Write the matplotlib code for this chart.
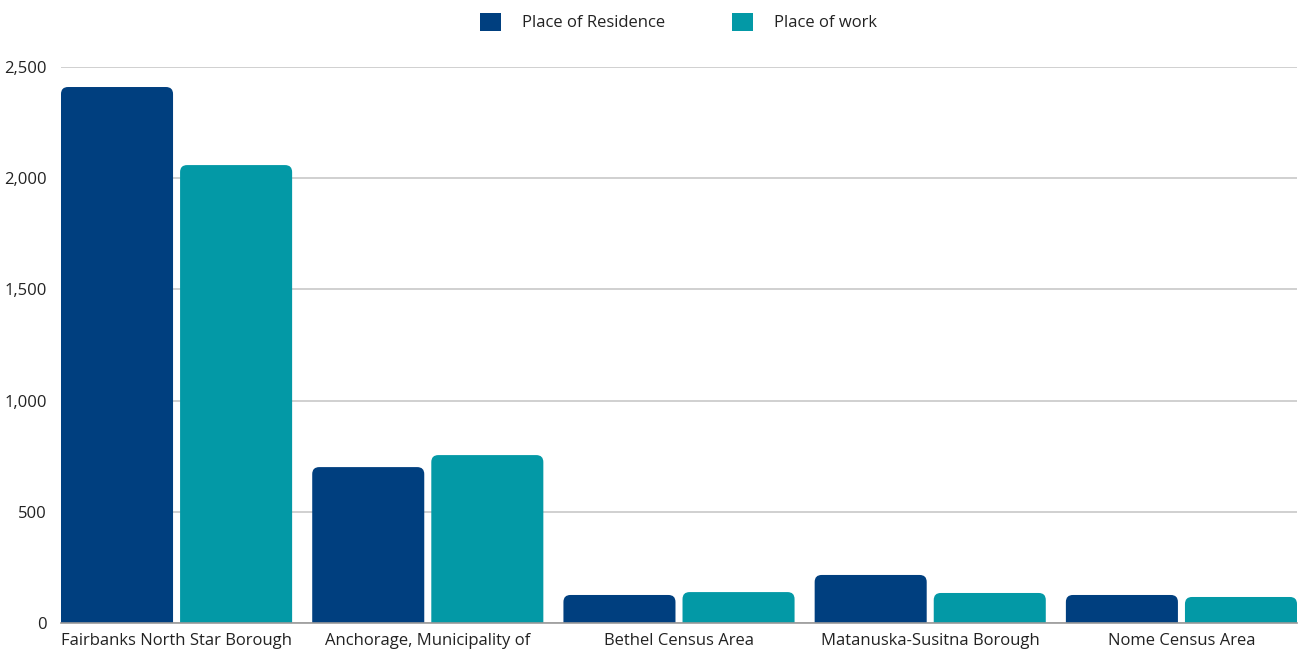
import numpy as np
import matplotlib
matplotlib.use("Agg")
import matplotlib.pyplot as plt
from matplotlib.patches import FancyBboxPatch, Patch

plt.rcParams["font.family"] = ["Open Sans", "DejaVu Sans"]

# dados
categorias = ["Fairbanks North Star Borough", "Anchorage, Municipality of",
              "Bethel Census Area", "Matanuska-Susitna Borough", "Nome Census Area"]
residencia = [2410, 701, 126, 216, 126]
trabalho = [2059, 755, 139, 135, 117]
series = ["Place of Residence", "Place of work"]
cores = ["#003F7F", "#0399A6"]

fig = plt.figure(figsize=(13.05, 6.52), dpi=100)
ax = fig.add_axes([61 / 1305, 29 / 652, 1236 / 1305, 556 / 652])

x = np.arange(len(categorias))
largura = 0.446
passo = 0.474

barras = []
barras += list(ax.bar(x - passo / 2, residencia, largura, color=cores[0]))
barras += list(ax.bar(x + passo / 2, trabalho, largura, color=cores[1]))

ax.set_xlim(-0.46, len(categorias) - 1 + 0.46)
ax.set_ylim(0, 2500)

# trocar barras retas por barras com cantos arredondados
fig.canvas.draw()
px_x = ax.transData.transform((1, 0))[0] - ax.transData.transform((0, 0))[0]
px_y = ax.transData.transform((0, 1))[1] - ax.transData.transform((0, 0))[1]
raio = 7 / px_x
aspecto = px_x / px_y
for b in barras:
    bx, by = b.get_x(), b.get_y()
    w, h = b.get_width(), b.get_height()
    ext = 40
    p = FancyBboxPatch((bx + raio, by - ext), w - 2 * raio, h + ext - raio * aspecto,
                       boxstyle=f"round,pad={raio},rounding_size={raio}",
                       mutation_aspect=aspecto,
                       facecolor=b.get_facecolor(), edgecolor="none", zorder=2)
    ax.add_patch(p)
    b.remove()

ax.set_yticks([0, 500, 1000, 1500, 2000, 2500])
ax.yaxis.set_major_formatter(matplotlib.ticker.FuncFormatter(lambda v, p: f"{int(v):,}"))
ax.set_xticks(x)
ax.set_xticklabels(categorias)
ax.tick_params(axis="both", length=0, labelsize=12, colors="#222222")
ax.tick_params(axis="y", pad=10)
ax.tick_params(axis="x", pad=7)

ax.grid(axis="y", color="#c8c8c8", linewidth=1.2, zorder=0)
ax.set_axisbelow(True)
for lado in ["top", "right", "left"]:
    ax.spines[lado].set_visible(False)
ax.spines["bottom"].set_color("#999999")
ax.spines["bottom"].set_linewidth(1.2)
ax.spines["bottom"].set_zorder(3)

handles = [Patch(facecolor=c, edgecolor="none") for c in cores]
fig.legend(handles, series, loc="center", bbox_to_anchor=(0.520, 1 - 22 / 652),
           ncol=2, frameon=False, fontsize=12, handlelength=1.25, handleheight=1.3,
           handletextpad=1.3, columnspacing=4.0, labelcolor="#222222")

plt.savefig("out.png", dpi=100)
